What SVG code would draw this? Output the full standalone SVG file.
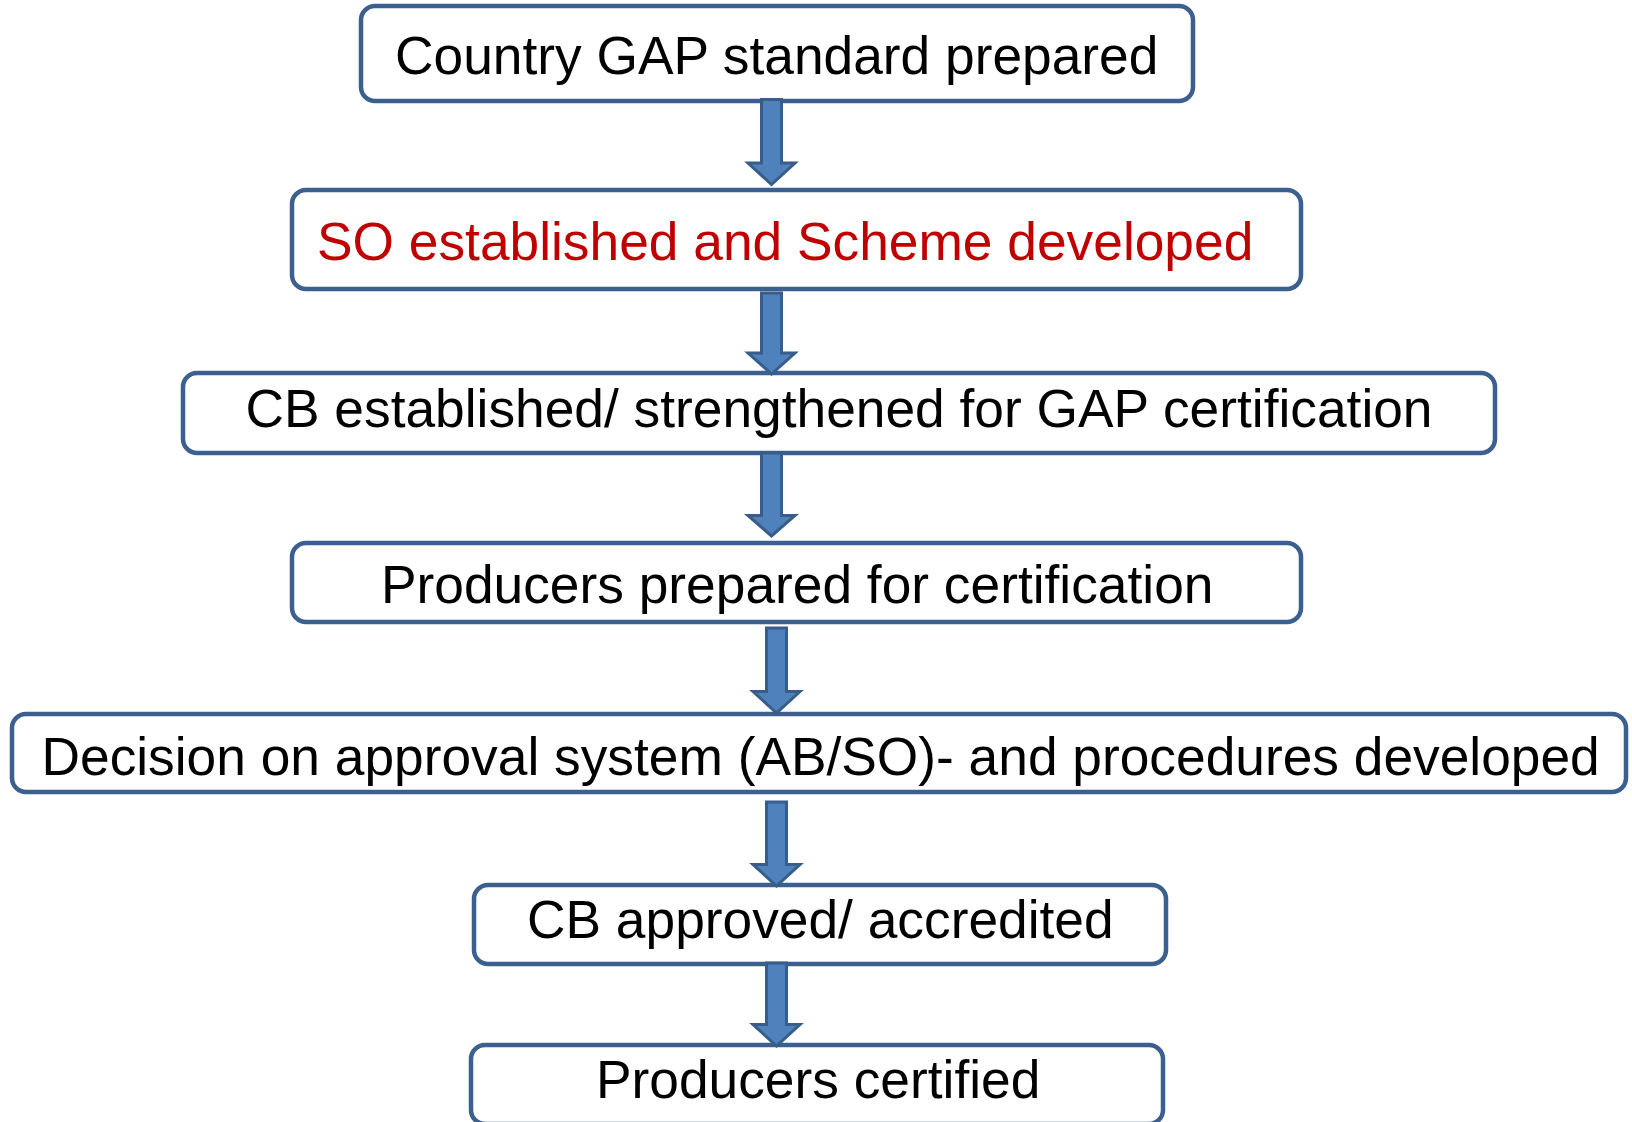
<svg xmlns="http://www.w3.org/2000/svg" width="1632" height="1122" viewBox="0 0 1632 1122">
<style>
.box{fill:#FFFFFF;stroke:#3B5F8E;stroke-width:4.5}
.lbl{font-family:"Liberation Sans",Arial,sans-serif;font-size:53.3px;fill:#000000}
.red{fill:#C00000}
.arr{fill:#4F81BD;stroke:#385D8A;stroke-width:3;stroke-linejoin:miter}
</style>
<rect width="1632" height="1122" fill="#FFFFFF"/>
<g id="node1"><rect class="box" x="361" y="6" width="832" height="95" rx="14"/><text class="lbl" x="395" y="74">Country GAP standard prepared</text></g>
<g id="node2"><rect class="box" x="292" y="190" width="1009" height="99" rx="14"/><text class="lbl red" x="317" y="260">SO established and Scheme developed</text></g>
<g id="node3"><rect class="box" x="183" y="373" width="1312" height="80" rx="14"/><text class="lbl" x="245.5" y="427">CB established/ strengthened for GAP certification</text></g>
<g id="node4"><rect class="box" x="292" y="543" width="1009" height="79" rx="14"/><text class="lbl" x="381" y="603">Producers prepared for certification</text></g>
<g id="node5"><rect class="box" x="12" y="714" width="1614" height="78" rx="14"/><text class="lbl" x="41.5" y="775">Decision on approval system (AB/SO)- and procedures developed</text></g>
<g id="node6"><rect class="box" x="474" y="885" width="692" height="79" rx="14"/><text class="lbl" x="527" y="938">CB approved/ accredited</text></g>
<g id="node7"><rect class="box" x="471" y="1045" width="692" height="79" rx="14"/><text class="lbl" x="596" y="1098">Producers certified</text></g>
<g id="connectors">
<polygon class="arr" points="761.5,99.5 781.5,99.5 781.5,163 795,163 771.5,184.5 748,163 761.5,163"/>
<polygon class="arr" points="761.5,293 781.5,293 781.5,353 795,353 771.5,374 748,353 761.5,353"/>
<polygon class="arr" points="761.5,453 781.5,453 781.5,515.5 795,515.5 771.5,536 748,515.5 761.5,515.5"/>
<polygon class="arr" points="766.5,628 786.5,628 786.5,691.5 800,691.5 776.5,713 753,691.5 766.5,691.5"/>
<polygon class="arr" points="766.5,802 786.5,802 786.5,864.5 800,864.5 776.5,886 753,864.5 766.5,864.5"/>
<polygon class="arr" points="766.5,963 786.5,963 786.5,1024.5 800,1024.5 776.5,1046 753,1024.5 766.5,1024.5"/>
</g>
</svg>
